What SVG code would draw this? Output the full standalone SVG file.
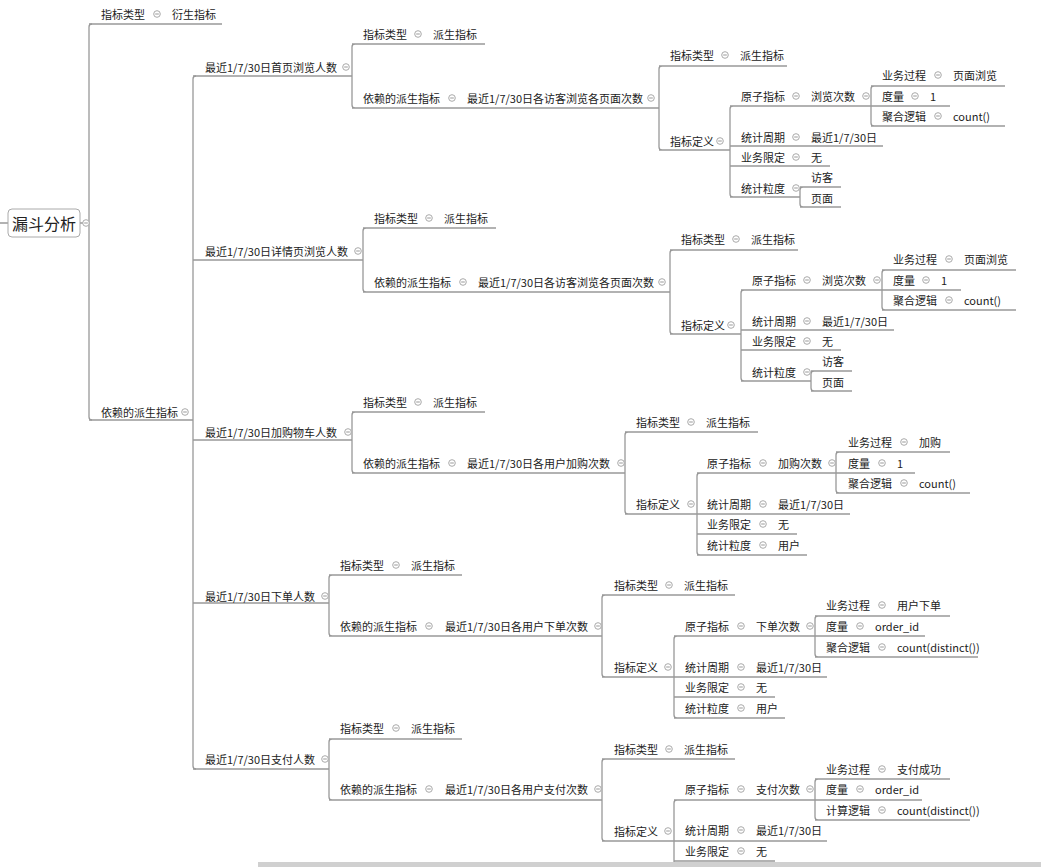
<svg xmlns="http://www.w3.org/2000/svg" xmlns:xlink="http://www.w3.org/1999/xlink" width="1041" height="867" viewBox="0 0 1041 867">
<style>
text{font-family:"Noto Sans CJK SC","Liberation Sans",sans-serif;font-size:11px;fill:#222;dominant-baseline:central}
.r{font-size:16px;text-anchor:middle}
.l{fill:none;stroke:#999;stroke-width:1.3}
</style>
<defs>
<g id="c"><circle r="3.3" fill="#fff" stroke="#aaa" stroke-width="1"/><line x1="-1.8" x2="1.8" stroke="#999" stroke-width="1"/></g>
</defs>
<rect width="1041" height="867" fill="#fff"/>
<g id="connectors" class="l">
<path d="M0 223H8M80 223H89"/>
<path d="M92 24Q89 24 89 27V417Q89 420 92 420"/>
<path d="M89 24H222M89 420H193"/>
<path d="M196 76Q193 76 193 79V766Q193 769 196 769"/>
<path d="M193 76H352M193 260H363M193 440H352M193 603H329M193 769H329"/>
<!-- sub1 -->
<path d="M355 44Q352 44 352 47V105Q352 108 355 108M352 44H485M352 108H659"/>
<path d="M662 66Q659 66 659 69V147Q659 150 662 150M659 66H787M659 150H730"/>
<path d="M733 106Q730 106 730 109V194Q730 197 733 197M730 106H871M730 146H883M730 166H830M730 197H800"/>
<path d="M803 187Q800 187 800 190V204Q800 207 803 207M800 187H841M800 207H841"/>
<path d="M874 86Q871 86 871 89V123Q871 126 874 126M871 86H1005M871 106H950M871 126H1005"/>
<!-- sub2 -->
<path d="M366 228Q363 228 363 231V289Q363 292 366 292M363 228H496M363 292H670"/>
<path d="M673 250Q670 250 670 253V331Q670 334 673 334M670 250H798M670 334H741"/>
<path d="M744 290Q741 290 741 293V378Q741 381 744 381M741 290H882M741 330H894M741 350H841M741 381H811"/>
<path d="M814 371Q811 371 811 374V388Q811 391 814 391M811 371H852M811 391H852"/>
<path d="M885 270Q882 270 882 273V307Q882 310 885 310M882 270H1016M882 290H961M882 310H1016"/>
<!-- sub3 -->
<path d="M355 412Q352 412 352 415V470Q352 473 355 473M352 412H485M352 473H625"/>
<path d="M628 432Q625 432 625 435V511Q625 514 628 514M625 432H758M625 514H697"/>
<path d="M700 473Q697 473 697 476V552Q697 555 700 555M697 473H836M697 514H850M697 534H797M697 555H807"/>
<path d="M839 452Q836 452 836 455V490Q836 493 839 493M836 452H950M836 473H915M836 493H970"/>
<!-- sub4 -->
<path d="M332 575Q329 575 329 578V633Q329 636 332 636M329 575H462M329 636H602"/>
<path d="M605 595Q602 595 602 598V674Q602 677 605 677M602 595H735M602 677H674"/>
<path d="M677 636Q674 636 674 639V715Q674 718 677 718M674 636H815M674 677H827M674 697H775M674 718H785"/>
<path d="M818 616Q815 616 815 619V654Q815 657 818 657M815 616H950M815 636H925M815 657H978"/>
<!-- sub5 -->
<path d="M332 739Q329 739 329 742V797Q329 800 332 800M329 739H462M329 800H602"/>
<path d="M605 759Q602 759 602 762V838Q602 841 605 841M602 759H735M602 841H674"/>
<path d="M677 800Q674 800 674 803V867M674 800H815M674 841H827M674 861H775"/>
<path d="M818 779Q815 779 815 782V817Q815 820 818 820M815 779H950M815 800H922M815 820H970"/>
</g>
<g id="root"><rect x="8" y="209" width="72" height="28" rx="4" fill="#fff" stroke="#aaa"/><text class="r" x="44" y="223">漏斗分析</text><use xlink:href="#c" x="86" y="223"/></g>
<g id="n-type0"><text x="101" y="14">指标类型</text><use xlink:href="#c" x="157" y="14"/><text x="172" y="14">衍生指标</text></g>
<g id="n-dep0"><text x="101" y="412">依赖的派生指标</text><use xlink:href="#c" x="185" y="412"/></g>
<!-- sub1 -->
<g id="s1"><text x="205" y="67">最近1/7/30日首页浏览人数</text><use xlink:href="#c" x="346" y="67"/></g>
<g id="s1a"><text x="363" y="34">指标类型</text><use xlink:href="#c" x="418" y="34"/><text x="433" y="34">派生指标</text></g>
<g id="s1b"><text x="363" y="98">依赖的派生指标</text><use xlink:href="#c" x="452" y="98"/><text x="467" y="98">最近1/7/30日各访客浏览各页面次数</text><use xlink:href="#c" x="651" y="98"/></g>
<g id="s1c"><text x="670" y="55">指标类型</text><use xlink:href="#c" x="725" y="55"/><text x="740" y="55">派生指标</text></g>
<g id="s1d"><text x="670" y="141">指标定义</text><use xlink:href="#c" x="720" y="141"/></g>
<g id="s1e"><text x="741" y="96">原子指标</text><use xlink:href="#c" x="796" y="96"/><text x="811" y="96">浏览次数</text><use xlink:href="#c" x="866" y="96"/></g>
<g id="s1f"><text x="741" y="137">统计周期</text><use xlink:href="#c" x="796" y="137"/><text x="811" y="137">最近1/7/30日</text></g>
<g id="s1g"><text x="741" y="157">业务限定</text><use xlink:href="#c" x="796" y="157"/><text x="811" y="157">无</text></g>
<g id="s1h"><text x="741" y="188">统计粒度</text><use xlink:href="#c" x="796" y="188"/><text x="811" y="177">访客</text><text x="811" y="198">页面</text></g>
<g id="s1i"><text x="882" y="75">业务过程</text><use xlink:href="#c" x="938" y="75"/><text x="953" y="75">页面浏览</text></g>
<g id="s1j"><text x="882" y="96">度量</text><use xlink:href="#c" x="915" y="96"/><text x="930" y="96">1</text></g>
<g id="s1k"><text x="882" y="116">聚合逻辑</text><use xlink:href="#c" x="938" y="116"/><text x="953" y="116">count()</text></g>
<!-- sub2 -->
<g id="s2"><text x="205" y="251">最近1/7/30日详情页浏览人数</text><use xlink:href="#c" x="358" y="251"/></g>
<g id="s2a"><text x="374" y="218">指标类型</text><use xlink:href="#c" x="429" y="218"/><text x="444" y="218">派生指标</text></g>
<g id="s2b"><text x="374" y="282">依赖的派生指标</text><use xlink:href="#c" x="463" y="282"/><text x="478" y="282">最近1/7/30日各访客浏览各页面次数</text><use xlink:href="#c" x="662" y="282"/></g>
<g id="s2c"><text x="681" y="239">指标类型</text><use xlink:href="#c" x="736" y="239"/><text x="751" y="239">派生指标</text></g>
<g id="s2d"><text x="681" y="325">指标定义</text><use xlink:href="#c" x="731" y="325"/></g>
<g id="s2e"><text x="752" y="280">原子指标</text><use xlink:href="#c" x="807" y="280"/><text x="822" y="280">浏览次数</text><use xlink:href="#c" x="877" y="280"/></g>
<g id="s2f"><text x="752" y="321">统计周期</text><use xlink:href="#c" x="807" y="321"/><text x="822" y="321">最近1/7/30日</text></g>
<g id="s2g"><text x="752" y="341">业务限定</text><use xlink:href="#c" x="807" y="341"/><text x="822" y="341">无</text></g>
<g id="s2h"><text x="752" y="372">统计粒度</text><use xlink:href="#c" x="807" y="372"/><text x="822" y="361">访客</text><text x="822" y="382">页面</text></g>
<g id="s2i"><text x="893" y="259">业务过程</text><use xlink:href="#c" x="949" y="259"/><text x="964" y="259">页面浏览</text></g>
<g id="s2j"><text x="893" y="280">度量</text><use xlink:href="#c" x="926" y="280"/><text x="941" y="280">1</text></g>
<g id="s2k"><text x="893" y="300">聚合逻辑</text><use xlink:href="#c" x="949" y="300"/><text x="964" y="300">count()</text></g>
<!-- sub3 -->
<g id="s3"><text x="205" y="432">最近1/7/30日加购物车人数</text><use xlink:href="#c" x="348" y="432"/></g>
<g id="s3a"><text x="363" y="402">指标类型</text><use xlink:href="#c" x="418" y="402"/><text x="433" y="402">派生指标</text></g>
<g id="s3b"><text x="363" y="463">依赖的派生指标</text><use xlink:href="#c" x="452" y="463"/><text x="467" y="463">最近1/7/30日各用户加购次数</text><use xlink:href="#c" x="621" y="463"/></g>
<g id="s3c"><text x="636" y="422">指标类型</text><use xlink:href="#c" x="691" y="422"/><text x="706" y="422">派生指标</text></g>
<g id="s3d"><text x="636" y="504">指标定义</text><use xlink:href="#c" x="691" y="504"/></g>
<g id="s3e"><text x="707" y="463">原子指标</text><use xlink:href="#c" x="763" y="463"/><text x="778" y="463">加购次数</text><use xlink:href="#c" x="832" y="463"/></g>
<g id="s3f"><text x="707" y="504">统计周期</text><use xlink:href="#c" x="763" y="504"/><text x="778" y="504">最近1/7/30日</text></g>
<g id="s3g"><text x="707" y="524">业务限定</text><use xlink:href="#c" x="763" y="524"/><text x="778" y="524">无</text></g>
<g id="s3h"><text x="707" y="545">统计粒度</text><use xlink:href="#c" x="763" y="545"/><text x="778" y="545">用户</text></g>
<g id="s3i"><text x="848" y="442">业务过程</text><use xlink:href="#c" x="904" y="442"/><text x="919" y="442">加购</text></g>
<g id="s3j"><text x="848" y="463">度量</text><use xlink:href="#c" x="882" y="463"/><text x="897" y="463">1</text></g>
<g id="s3k"><text x="848" y="483">聚合逻辑</text><use xlink:href="#c" x="904" y="483"/><text x="919" y="483">count()</text></g>
<!-- sub4 -->
<g id="s4"><text x="205" y="596">最近1/7/30日下单人数</text><use xlink:href="#c" x="325" y="596"/></g>
<g id="s4a"><text x="340" y="565">指标类型</text><use xlink:href="#c" x="396" y="565"/><text x="411" y="565">派生指标</text></g>
<g id="s4b"><text x="340" y="626">依赖的派生指标</text><use xlink:href="#c" x="429" y="626"/><text x="445" y="626">最近1/7/30日各用户下单次数</text><use xlink:href="#c" x="598" y="626"/></g>
<g id="s4c"><text x="614" y="585">指标类型</text><use xlink:href="#c" x="669" y="585"/><text x="684" y="585">派生指标</text></g>
<g id="s4d"><text x="614" y="667">指标定义</text><use xlink:href="#c" x="668" y="667"/></g>
<g id="s4e"><text x="685" y="626">原子指标</text><use xlink:href="#c" x="741" y="626"/><text x="756" y="626">下单次数</text><use xlink:href="#c" x="810" y="626"/></g>
<g id="s4f"><text x="685" y="667">统计周期</text><use xlink:href="#c" x="741" y="667"/><text x="756" y="667">最近1/7/30日</text></g>
<g id="s4g"><text x="685" y="687">业务限定</text><use xlink:href="#c" x="741" y="687"/><text x="756" y="687">无</text></g>
<g id="s4h"><text x="685" y="708">统计粒度</text><use xlink:href="#c" x="741" y="708"/><text x="756" y="708">用户</text></g>
<g id="s4i"><text x="826" y="605">业务过程</text><use xlink:href="#c" x="882" y="605"/><text x="897" y="605">用户下单</text></g>
<g id="s4j"><text x="826" y="626">度量</text><use xlink:href="#c" x="860" y="626"/><text x="875" y="626">order_id</text></g>
<g id="s4k"><text x="826" y="647">聚合逻辑</text><use xlink:href="#c" x="882" y="647"/><text x="897" y="647">count(distinct())</text></g>
<!-- sub5 -->
<g id="s5"><text x="205" y="759">最近1/7/30日支付人数</text><use xlink:href="#c" x="325" y="759"/></g>
<g id="s5a"><text x="340" y="728">指标类型</text><use xlink:href="#c" x="396" y="728"/><text x="411" y="728">派生指标</text></g>
<g id="s5b"><text x="340" y="789">依赖的派生指标</text><use xlink:href="#c" x="429" y="789"/><text x="445" y="789">最近1/7/30日各用户支付次数</text><use xlink:href="#c" x="598" y="789"/></g>
<g id="s5c"><text x="614" y="749">指标类型</text><use xlink:href="#c" x="669" y="749"/><text x="684" y="749">派生指标</text></g>
<g id="s5d"><text x="614" y="831">指标定义</text><use xlink:href="#c" x="668" y="831"/></g>
<g id="s5e"><text x="685" y="789">原子指标</text><use xlink:href="#c" x="741" y="789"/><text x="756" y="789">支付次数</text><use xlink:href="#c" x="810" y="789"/></g>
<g id="s5f"><text x="685" y="830">统计周期</text><use xlink:href="#c" x="741" y="830"/><text x="756" y="830">最近1/7/30日</text></g>
<g id="s5g"><text x="685" y="851">业务限定</text><use xlink:href="#c" x="741" y="851"/><text x="756" y="851">无</text></g>
<g id="s5i"><text x="826" y="769">业务过程</text><use xlink:href="#c" x="882" y="769"/><text x="897" y="769">支付成功</text></g>
<g id="s5j"><text x="826" y="789">度量</text><use xlink:href="#c" x="860" y="789"/><text x="875" y="789">order_id</text></g>
<g id="s5k"><text x="826" y="810">计算逻辑</text><use xlink:href="#c" x="882" y="810"/><text x="897" y="810">count(distinct())</text></g>
<rect id="scrollbar" x="258" y="862" width="783" height="5" fill="#d0d0d0"/>
</svg>
